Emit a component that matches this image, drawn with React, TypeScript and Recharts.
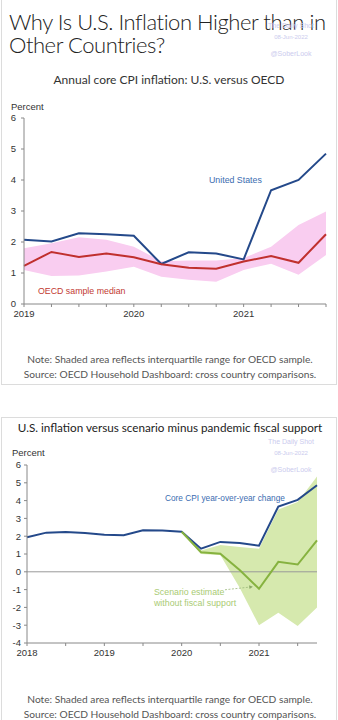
import React from "react";
import {
  ComposedChart,
  Line,
  Area,
  XAxis,
  YAxis,
  ReferenceLine,
} from "recharts";

// panel 1: quarterly, 2019Q1 - 2021Q4
const quarters1 = [2019, 2019.25, 2019.5, 2019.75, 2020, 2020.25, 2020.5, 2020.75, 2021, 2021.25, 2021.5, 2021.75];
const usCore1 = [2.07, 2.02, 2.28, 2.25, 2.2, 1.29, 1.67, 1.63, 1.44, 3.67, 4.0, 4.85];
const oecdMedian = [1.23, 1.68, 1.52, 1.63, 1.51, 1.28, 1.17, 1.14, 1.37, 1.55, 1.33, 2.25];
const oecdLow = [1.1, 0.9, 0.92, 1.05, 1.2, 0.88, 0.78, 0.72, 1.1, 1.3, 0.94, 1.58];
const oecdHigh = [1.8, 1.96, 2.15, 2.07, 1.85, 1.38, 1.4, 1.4, 1.48, 1.85, 2.55, 2.98];
const xTicks1 = [2019, 2019.25, 2019.5, 2019.75, 2020, 2020.25, 2020.5, 2020.75, 2021, 2021.25, 2021.5, 2021.75];
const yTicks1 = [0, 1, 2, 3, 4, 5, 6];

// panel 2: quarterly, 2018Q1 - 2021Q4
const quarters2 = [2018, 2018.25, 2018.5, 2018.75, 2019, 2019.25, 2019.5, 2019.75, 2020, 2020.25, 2020.5, 2020.75, 2021, 2021.25, 2021.5, 2021.75];
const usCore2 = [1.94, 2.2, 2.23, 2.18, 2.08, 2.05, 2.33, 2.32, 2.25, 1.3, 1.68, 1.62, 1.47, 3.67, 4.04, 4.86];
const scenario = [null, null, null, null, null, null, null, null, 2.25, 1.1, 1.02, 0.1, -0.95, 0.56, 0.41, 1.77];
const scenarioLow = [null, null, null, null, null, null, null, null, 2.25, 1.0, 0.95, -0.9, -3.0, -2.3, -3.05, -2.0];
const scenarioHigh = [null, null, null, null, null, null, null, null, 2.25, 1.2, 1.5, 1.4, 1.3, 3.5, 3.92, 5.35];
const xTicks2 = [2018, 2018.5, 2019, 2019.5, 2020, 2020.5, 2021, 2021.5];
const yTicks2 = [-4, -3, -2, -1, 0, 1, 2, 3, 4, 5, 6];

const data1 = quarters1.map((q, i) => ({
  q,
  us: usCore1[i],
  median: oecdMedian[i],
  band: [oecdLow[i], oecdHigh[i]],
}));

const data2 = quarters2.map((q, i) => ({
  q,
  us: usCore2[i],
  scen: scenario[i],
  band: scenarioLow[i] == null ? null : [scenarioLow[i], scenarioHigh[i]],
}));

const AXIS_FONT = "'Liberation Sans', Arial, sans-serif";
const TITLE_FONT = "Lato, 'Open Sans', sans-serif";
const BLUE = "#24498a";
const RED = "#c0302e";
const PINK = "#f9cdf0";
const GREEN = "#86b23f";
const GREEN_BAND = "#d6e9ae";

const yearOnly = (v: number) => (Number.isInteger(v) ? String(v) : "");

const tickStyle = { fontSize: 9.5, fill: "#333", fontFamily: AXIS_FONT };

const Arrow = (props: any) => {
  const { x1, y1, x2, y2 } = props;
  const ang = Math.atan2(y2 - y1, x2 - x1);
  const s = 4;
  const p1 = `${x2 - s * Math.cos(ang - 0.5)},${y2 - s * Math.sin(ang - 0.5)}`;
  const p2 = `${x2 - s * Math.cos(ang + 0.5)},${y2 - s * Math.sin(ang + 0.5)}`;
  return (
    <g>
      <line x1={x1} y1={y1} x2={x2} y2={y2} stroke="#9bb87a" strokeWidth={0.8} strokeDasharray="2 1.5" />
      <polygon points={`${x2},${y2} ${p1} ${p2}`} fill="#8aa865" />
    </g>
  );
};

const abs = (x: number, y: number, extra: any = {}) => ({
  position: "absolute" as const,
  left: x,
  top: y,
  whiteSpace: "nowrap" as const,
  lineHeight: 1,
  ...extra,
});

const Watermark = ({ top }: { top: number }) => (
  <div style={abs(268, top, { width: 46, textAlign: "center", color: "#cbcbee", fontFamily: AXIS_FONT, fontSize: 7 })}>
    <div>The Daily Shot</div>
    <div style={{ marginTop: 5, fontSize: 6 }}>08-Jun-2022</div>
    <div style={{ marginTop: 10 }}>@SoberLook</div>
  </div>
);

const Notes = ({ top }: { top: number }) => (
  <div style={abs(0, top, { width: 340, textAlign: "center", color: "#555", fontFamily: TITLE_FONT, fontSize: 10.2 })}>
    <div>Note: Shaded area reflects interquartile range for OECD sample.</div>
    <div style={{ marginTop: 4.5 }}>Source: OECD Household Dashboard: cross country comparisons.</div>
  </div>
);

const titleStyle = { fontFamily: TITLE_FONT, fontWeight: 300, fontSize: 22, letterSpacing: -0.45, color: "#222" };

export default function App() {
  return (
    <div style={{ position: "absolute", left: 0, top: 0, width: 338, height: 720, background: "#fff", overflow: "hidden" }}>
      {/* panel 1 */}
      <div style={{ position: "absolute", left: 1, top: -2, width: 334, height: 385, border: "1px solid #dcdcdc" }} />
      <div style={abs(9, 11, titleStyle)}>Why Is U.S. Inflation Higher than in</div>
      <div style={abs(9, 34, titleStyle)}>Other Countries?</div>
      <Watermark top={22} />
      <div style={abs(0, 74, { width: 338, textAlign: "center", fontFamily: TITLE_FONT, fontSize: 12, color: "#333" })}>
        Annual core CPI inflation: U.S. versus OECD
      </div>
      <div style={abs(11, 102, { fontFamily: AXIS_FONT, fontSize: 9.5, color: "#333" })}>Percent</div>

      <div style={{ position: "absolute", left: 0, top: 100 }}>
        <ComposedChart width={338} height={230} data={data1} margin={{ top: 18, right: 12, bottom: 6, left: 0 }}>
          <XAxis
            dataKey="q"
            type="number"
            domain={[2019, 2021.75]}
            ticks={xTicks1}
            tickFormatter={yearOnly}
            interval={0}
            height={20}
            tick={tickStyle}
            tickSize={3}
            tickMargin={3}
            stroke="#888"
          />
          <YAxis
            type="number"
            domain={[0, 6]}
            ticks={yTicks1}
            width={24}
            tick={tickStyle}
            tickSize={3}
            tickMargin={5}
            stroke="#888"
          />
          <Area dataKey="band" stroke="none" fill={PINK} fillOpacity={1} isAnimationActive={false} />
          <Line dataKey="us" stroke={BLUE} strokeWidth={2} dot={false} isAnimationActive={false} />
          <Line dataKey="median" stroke={RED} strokeWidth={2} dot={false} isAnimationActive={false} />
        </ComposedChart>
      </div>
      <div style={abs(209, 176, { fontFamily: AXIS_FONT, fontSize: 8.8, color: "#3a6cb0" })}>United States</div>
      <div style={abs(38, 287, { fontFamily: AXIS_FONT, fontSize: 8.8, color: "#c23a32" })}>OECD sample median</div>
      <Notes top={354} />

      {/* panel 2 */}
      <div style={{ position: "absolute", left: 1, top: 417, width: 334, height: 310, border: "1px solid #dcdcdc" }} />
      <div style={abs(0, 422, { width: 340, textAlign: "center", fontFamily: TITLE_FONT, fontSize: 11.7, color: "#222" })}>
        U.S. inflation versus scenario minus pandemic fiscal support
      </div>
      <Watermark top={438} />
      <div style={abs(12, 448, { fontFamily: AXIS_FONT, fontSize: 9.5, color: "#333" })}>Percent</div>

      <div style={{ position: "absolute", left: 0, top: 455 }}>
        <ComposedChart width={338} height={215} data={data2} margin={{ top: 10, right: 21, bottom: 7, left: 0 }}>
          <XAxis
            dataKey="q"
            type="number"
            domain={[2018, 2021.75]}
            ticks={xTicks2}
            tickFormatter={yearOnly}
            interval={0}
            height={20}
            tick={tickStyle}
            tickSize={3}
            tickMargin={3}
            stroke="#888"
          />
          <YAxis
            type="number"
            domain={[-4, 6]}
            ticks={yTicks2}
            width={27}
            tick={tickStyle}
            tickSize={3}
            tickMargin={3}
            stroke="#888"
          />
          <Area dataKey="band" stroke="none" fill={GREEN_BAND} fillOpacity={1} isAnimationActive={false} />
          <ReferenceLine y={0} stroke="#999" strokeWidth={1} />
          <Line dataKey="us" stroke={BLUE} strokeWidth={2} dot={false} isAnimationActive={false} />
          <Line dataKey="scen" stroke={GREEN} strokeWidth={2} dot={false} isAnimationActive={false} />
          <ReferenceLine
            segment={[
              { x: 2020.56, y: -1.01 },
              { x: 2020.92, y: -0.84 },
            ]}
            shape={<Arrow />}
          />
        </ComposedChart>
      </div>
      <div style={abs(165, 494, { fontFamily: AXIS_FONT, fontSize: 8.3, color: "#3a6cb0" })}>Core CPI year-over-year change</div>
      <div style={abs(154, 587, { fontFamily: AXIS_FONT, fontSize: 8.8, color: "#a9cb73", lineHeight: "11px" })}>
        Scenario estimate
        <br />
        without fiscal support
      </div>
      <Notes top={694} />
    </div>
  );
}
